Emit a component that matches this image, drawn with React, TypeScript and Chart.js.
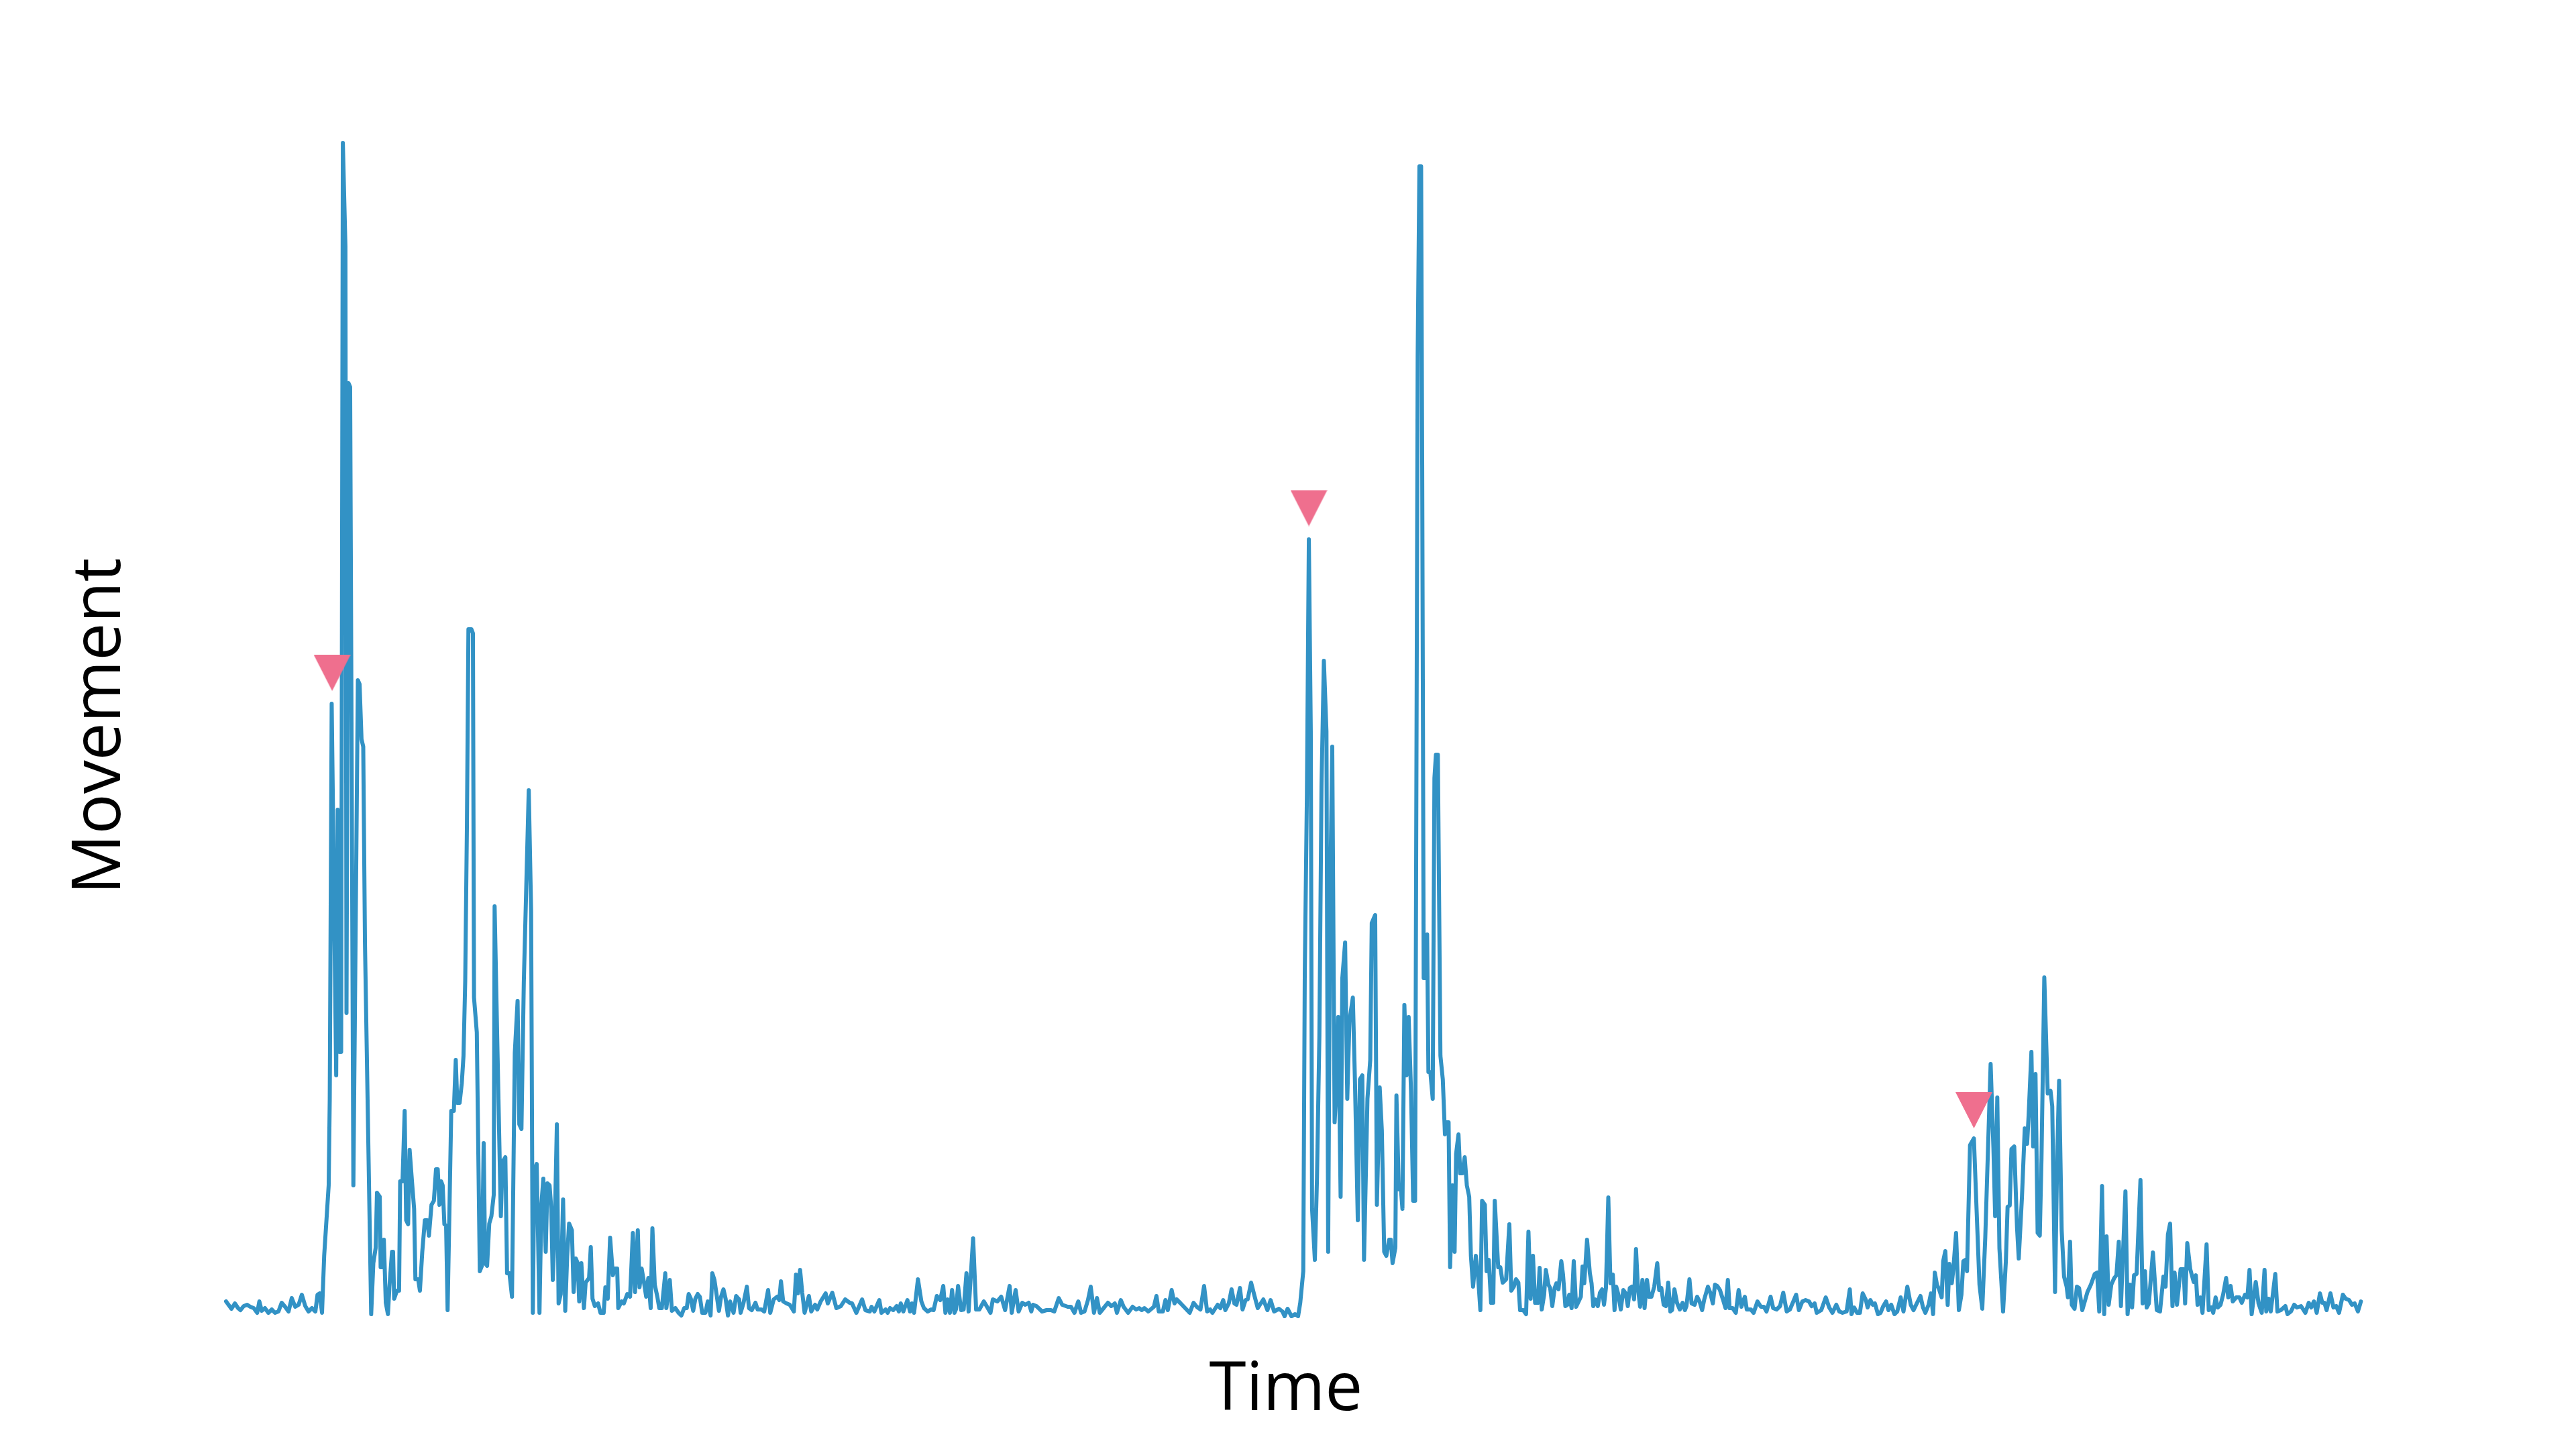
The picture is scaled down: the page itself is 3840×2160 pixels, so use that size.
import React, { useEffect, useRef } from "react";
import { Chart, registerables } from "chart.js";

Chart.register(...registerables);

// [time, movement] readings, in the order they appear along the trace
const restStart: [number, number][] = [
  [0, 2.5], [2.5, 1.4], [4.1, 2.2], [5.6, 1.5], [6.7, 1.2], [8.2, 1.8], [9.8, 2.0], [11.3, 1.7], [12.9, 1.5], [14.5, 0.8],
  [15.5, 2.5], [16.6, 1.1], [18.1, 1.5], [19.7, 0.8], [21.3, 1.3], [22.8, 0.8], [24.4, 1.0], [25.9, 2.3], [27.5, 1.7], [29.1, 1.0],
  [30.6, 3.0], [32.2, 1.7], [33.8, 2.0], [35.3, 3.5], [36.9, 1.8], [38.4, 1.0], [40.0, 1.5], [41.6, 1.0], [42.6, 3.5], [43.6, 3.7],
  [44.7, 0.8],
];

const burstOne: [number, number][] = [
  [45.7, 9.3], [47.8, 19.8], [48.3, 32.7], [49.2, 91.6], [51.3, 36.2], [52.0, 75.8], [52.8, 39.7], [53.6, 39.7], [54.4, 175.2],
  [55.6, 159.8], [56.1, 45.5], [57.0, 139.4], [57.8, 138.8], [59.3, 19.8], [61.4, 95.1], [62.2, 94.5], [63.1, 86.3], [63.9, 85.2],
  [64.7, 56], [67.6, 0.6], [68.6, 8.2], [69.7, 10.5], [70.3, 18.7], [71.6, 18.1], [72.0, 7.6], [72.8, 7.6], [73.5, 11.7], [74.4, 2.3],
  [75.4, 0.6], [76.1, 4.7], [77.3, 9.9], [77.8, 9.9], [78.3, 2.9], [79.6, 4.1], [80.6, 4.1], [81.1, 20.4], [82.2, 20.4], [83.2, 30.9],
  [83.9, 14.6], [84.8, 14.0], [85.5, 25.1], [86.6, 20.4], [87.6, 16.3], [88.2, 5.8], [89.5, 5.8], [90.3, 4.1], [91.4, 9.9], [92.6, 14.6],
  [93.7, 14.6], [94.5, 12.3], [95.7, 16.9], [96.8, 17.5], [97.8, 22.2], [98.6, 22.2], [99.4, 16.9], [100.2, 20.4], [100.9, 19.8],
  [101.7, 14.0], [102.5, 13.8], [103.2, 1.2], [104.9, 30.9], [106.1, 30.9], [107.0, 38.5], [107.7, 32.1], [108.8, 32.1], [109.8, 35.0],
  [110.6, 39.1], [111.4, 50.2], [112.2, 73.5], [112.9, 102.7], [114.3, 102.7], [115.0, 102.1], [115.5, 47.8], [116.8, 42.6], [118.2, 7.0],
];

const burstOneTail: [number, number][] = [
  [119.2, 7.8], [120.0, 26.1], [120.7, 8.2], [121.6, 7.8], [122.6, 14.1], [123.6, 15.2], [124.7, 18.4], [125.1, 61.4], [126.5, 38.8],
  [128.0, 15.2], [128.8, 23.3], [130.1, 24.0], [130.9, 6.7], [132.0, 6.7], [133.2, 3.2], [134.5, 39.5], [135.8, 47.3], [136.6, 28.9],
  [137.6, 28.2], [138.7, 50.1], [141.0, 78.7], [142.1, 60.7], [142.9, 0.8], [143.6, 21.9], [144.7, 23.0], [146.0, 0.8], [146.9, 17.0],
  [147.8, 20.8], [148.9, 9.9], [149.7, 20.1], [150.7, 19.8], [151.5, 16.3], [152.2, 5.7], [153.0, 12.0], [154.1, 28.9], [154.9, 2.2],
  [155.9, 3.6], [157.0, 17.7], [158.0, 1.1], [158.9, 9.2], [159.8, 14.1], [161.1, 13.1], [161.9, 3.9], [162.9, 8.9], [163.8, 8.2],
  [164.5, 2.5], [165.5, 8.2], [166.7, 1.5], [167.5, 5.3], [169.1, 6.0], [169.9, 10.6], [170.7, 2.9], [171.8, 1.8], [173.3, 2.2],
  [174.4, 0.8], [175.9, 0.8], [176.7, 4.6], [177.8, 2.9], [178.9, 12.0], [180.2, 6.4], [181.1, 7.4], [182.2, 7.4], [182.7, 1.5],
  [184.3, 2.5], [185.3, 2.2], [186.9, 3.6], [188.2, 3.2], [189.5, 12.7], [190.5, 3.9], [191.8, 13.1], [192.6, 4.6], [193.6, 7.4],
  [194.5, 5.7], [195.7, 3.2], [196.7, 6.0], [197.8, 1.5], [198.6, 13.4], [199.7, 5.0], [200.9, 3.2], [201.8, 1.5], [203.0, 1.5],
  [204.6, 6.7], [205.1, 1.5], [206.7, 5.7], [207.7, 1.1], [209.3, 1.5], [210.8, 0.8], [212.1, 0.4], [213.4, 1.5], [214.6, 1.5],
  [215.5, 3.6], [216.5, 2.9], [217.6, 1.1], [218.6, 2.9], [219.7, 3.6], [220.7, 3.2], [221.8, 0.8], [223.3, 0.8], [224.4, 2.5],
  [225.7, 0.4], [226.5, 6.7], [227.5, 5.7], [229.6, 1.1], [230.6, 3.2], [231.7, 4.3], [232.7, 2.9], [233.8, 0.4], [234.8, 2.5],
];

const quietA: [number, number][] = [
  [236.4, 0.8], [237.6, 3.3], [239.0, 2.8], [239.7, 0.8], [241.0, 2.2], [242.6, 4.7], [243.6, 1.5], [244.9, 1.2], [246.6, 2.3],
  [247.6, 1.3], [249.4, 1.3], [250.7, 1.0], [252.5, 4.2], [253.5, 0.8], [255.1, 2.8], [256.7, 3.2], [257.7, 2.7], [258.5, 5.5],
  [259.5, 2.5], [261.1, 2.2], [262.6, 2.0], [264.5, 1.0], [265.5, 6.5], [266.4, 3.7], [267.4, 7.2], [268.4, 3.8], [269.5, 0.8],
  [271.5, 3.3], [272.6, 1.0], [274.4, 2.0], [275.4, 1.3], [277.0, 2.5], [279.3, 3.7], [280.3, 2.2], [282.4, 3.8], [284.3, 1.5],
  [286.4, 1.8], [288.4, 2.8], [290.5, 2.3], [291.6, 2.2], [293.6, 0.8], [296.3, 2.8], [297.8, 1.2], [299.9, 1.0], [300.7, 1.7],
  [302.0, 1.0], [304.3, 2.7], [305.3, 0.8], [307.2, 1.3], [308.2, 0.8], [309.3, 1.5], [310.8, 1.2], [312.4, 1.8], [313.4, 1.0],
  [314.3, 2.2], [315.5, 1.0], [317.4, 2.7], [318.6, 1.0], [319.5, 2.2], [320.5, 0.8], [322.3, 5.8], [323.9, 2.5], [325.1, 1.5],
  [326.8, 1.0], [328.5, 1.3], [329.6, 1.2], [331.1, 3.3], [332.7, 2.7], [334.1, 4.8], [335.1, 0.8], [336.1, 2.8], [337.2, 0.8],
  [338.2, 4.2], [339.3, 0.8], [340.0, 1.3], [341.0, 4.8], [342.4, 1.2], [343.6, 1.3], [344.9, 6.7], [345.9, 1.0], [348.0, 11.9],
  [349.4, 1.3], [350.9, 1.3], [353.0, 2.5], [354.3, 1.8], [356.1, 0.8], [357.2, 2.8], [359.3, 2.5], [361.1, 3.2], [362.9, 1.2],
  [365.0, 4.8],
];

const quietB: [number, number][] = [
  [366.0, 0.8], [367.8, 4.2], [369.2, 1.0], [370.9, 2.3], [372.3, 2.0], [373.9, 2.3], [375.1, 1.0], [375.9, 2.0], [377.5, 1.8],
  [378.5, 1.5], [380.1, 1.0], [382.2, 1.2], [384.3, 1.2], [385.8, 1.0], [387.9, 3.0], [389.5, 2.0], [392.1, 1.7], [393.6, 1.7],
  [395.2, 0.8], [397.0, 2.5], [398.3, 0.8], [399.9, 1.0], [401.5, 2.7], [402.8, 4.7], [404.3, 0.8], [405.7, 3.0], [407.0, 0.8],
  [408.8, 1.5], [410.8, 2.3], [412.4, 1.8], [414.0, 2.2], [415.0, 0.8], [416.8, 2.7], [418.1, 1.7], [420.2, 0.8], [422.3, 1.7],
  [423.9, 1.3], [425.4, 1.5], [426.5, 1.2], [427.8, 1.5], [429.6, 1.0], [432.2, 1.7], [433.4, 3.3], [434.5, 1.0], [436.4, 1.0],
  [437.6, 2.7], [438.7, 1.2], [440.5, 4.2], [441.8, 2.2], [442.8, 2.8], [444.7, 2.2], [446.8, 1.5], [448.9, 0.8], [450.7, 2.3],
  [452.2, 1.7], [453.9, 1.3], [455.6, 4.8], [457.0, 1.0], [458.4, 1.3], [459.5, 0.8], [461.9, 2.0], [463.2, 1.5], [464.5, 2.7],
  [465.5, 1.2], [467.1, 2.2], [468.4, 4.3], [469.7, 2.2], [470.7, 2.0], [472.3, 4.5], [473.5, 1.3], [474.9, 2.7], [475.9, 2.8],
  [477.5, 5.3], [479.1, 3.3], [480.6, 1.5], [483.2, 2.8], [485.1, 1.2], [486.6, 2.7], [488.2, 1.0],
];

const burstTwo: [number, number][] = [
  [490.5, 1.4], [492.1, 1.0], [493.1, 0.3], [494.5, 1.4], [496.3, 0.3], [498.0, 0.6], [499.4, 0.3], [500.4, 2.3], [501.8, 7],
  [502.5, 51.3], [503.5, 78.2], [504.4, 116.1], [505.3, 87.5], [505.9, 16.3], [507.2, 8.7], [508.2, 21], [509.3, 42], [510.3, 79.3],
  [511.4, 98], [512.6, 87.5], [513.4, 9.9], [514.3, 61.8], [515.3, 85.2], [516.4, 29.2], [517.1, 33.8], [518.1, 44.9], [519.2, 18.1],
  [520.0, 50.7], [521.3, 56], [522.3, 32.7], [523.3, 44.3], [524.9, 47.8], [525.9, 35], [527.2, 14.6], [528.2, 35.6], [529.3, 36.2],
  [530.1, 8.7], [531.7, 32.7], [533.0, 38.5], [533.7, 58.9], [535.3, 60.1], [536.1, 16.9], [537.4, 34.4], [538.4, 28], [539.5, 9.9],
  [540.5, 9.3], [541.8, 11.7], [542.6, 11.7], [543.4, 8.2], [544.7, 10.5], [545.2, 33.2], [546.3, 19.2], [547.3, 19.2], [548.0, 16.3],
  [548.9, 46.7], [549.9, 36.2], [550.9, 44.9], [552.0, 33.8], [553.0, 17.5], [553.9, 17.5], [555.1, 143.5], [555.9, 171.7],
  [556.7, 171.7], [557.2, 127.2], [557.9, 50.7], [558.8, 50.7], [559.5, 57.2], [560.1, 36.7], [561.0, 36.7], [562.1, 32.7],
  [562.9, 80.5], [563.6, 84], [564.5, 84], [565.7, 39.1], [566.8, 35.6], [567.8, 27.4], [568.7, 29.2], [569.5, 29.2], [570.2, 7.6],
  [571.3, 19.8], [572.3, 9.9], [573.0, 24.5], [574.1, 27.4], [574.9, 21.6], [575.9, 21.6], [577.0, 24], [578.0, 19.8], [579.1, 18.1],
  [579.9, 9.3], [580.9, 4.7], [582.2, 9.3], [583.2, 6.4], [584.3, 1.2], [585.1, 17.5], [586.4, 16.9], [587.2, 7], [588.2, 8.7],
  [589.3, 2.3], [590.3, 2.3], [591.0, 17.5], [592.6, 7.6], [593.6, 7.6], [594.7, 5.3], [596.3, 5.8], [597.8, 14], [598.7, 4.1],
  [599.9, 4.7], [600.9, 5.8], [602.0, 5.3], [602.8, 1.2], [604.3, 1.2], [605.6, 0.6], [606.7, 12.9], [607.7, 2.9], [608.8, 9.3],
  [609.8, 2.3], [611.1, 2.3],
];

const burstTwoTail: [number, number][] = [
  [611.9, 7.5], [612.9, 1.3], [614.0, 3.5], [614.8, 7.2], [616.0, 5], [616.8, 4.5], [617.8, 1.8], [618.9, 4.5], [619.7, 5.2],
  [620.7, 4.3], [622.0, 8.5], [622.8, 6.5], [623.9, 1.8], [624.9, 2], [625.7, 3.5], [626.8, 1.5], [627.8, 8.5], [628.9, 1.7],
  [630.1, 2.5], [631.1, 3.2], [631.9, 7.7], [632.7, 5.2], [634.0, 11.7], [635.3, 6.7], [636.1, 5.2], [636.9, 1.8], [637.9, 2.8],
  [639.0, 1.8], [640.0, 3.8], [641.0, 4.3], [641.9, 2], [642.8, 4.5], [643.9, 18], [644.9, 5.2], [646.0, 6.5], [646.8, 1.2],
  [647.6, 4.7], [648.6, 3.5], [649.7, 1.3], [650.9, 4.2], [652.0, 3.7], [653.0, 1.8], [653.9, 4.5], [654.9, 4.7], [655.9, 2.8],
  [656.8, 10.3], [657.7, 4.5], [658.7, 1.7], [659.8, 5.7], [660.8, 1.5], [661.9, 5.7], [662.9, 3.2], [664.0, 3.2], [665.3, 4.7],
  [666.7, 8.2], [667.6, 4.2], [668.6, 4.5], [669.7, 2], [670.7, 1.8], [671.8, 5.3], [672.8, 1.0], [673.6, 1.2], [674.7, 4.3],
  [675.9, 2.3], [677.2, 1.3], [678.5, 2.3], [679.6, 1.2], [680.3, 1.8], [681.7, 5.8], [682.7, 2.2], [684.1, 2], [685.3, 3.2],
  [686.4, 2.5], [687.6, 1.2], [688.6, 2.8], [690.3, 4.7], [691.4, 3.8], [692.6, 2.2], [693.6, 5], [694.7, 4.8], [695.9, 4.2],
  [697.3, 2.8], [698.5, 1.5], [699.6, 5.7], [700.4, 1.5], [701.8, 1.5], [703.3, 0.8], [704.6, 4.2], [705.9, 1.7], [707.5, 3.2],
  [708.4, 1.3], [710.3, 1.3], [711.6, 0.8], [713.4, 2.5], [715.0, 1.7], [716.4, 1.7], [717.6, 1.0], [719.5, 3.2], [720.7, 1.5],
  [722.3, 1.3], [723.9, 1.8], [725.4, 3.8], [727.0, 1.0], [728.5, 1.3], [730.1, 2.5], [731.4, 3.5], [732.7, 1.2], [734.3, 2.5],
  [735.8, 2.7], [737.4, 2.5], [738.6, 1.8], [740.0, 2.2], [741.0, 0.8],
];

const burstThree: [number, number][] = [
  [743.1, 1.2], [745.2, 3.1], [746.8, 1.6], [748.3, 0.8], [750.1, 2.0], [751.5, 1.0], [753.0, 0.8], [754.9, 1.0], [756.4, 4.3],
  [757.2, 0.6], [758.4, 1.6], [759.8, 0.8], [761.1, 0.8], [762.4, 3.7], [763.9, 2.7], [764.7, 1.6], [766.0, 2.7], [767.1, 2.0],
  [768.1, 2.2], [769.5, 0.6], [770.7, 0.8], [772.0, 1.8], [773.3, 2.5], [774.4, 1.2], [775.7, 2.0], [777.2, 0.6], [778.5, 1.0],
  [780.1, 3.1], [781.4, 1.0], [783.2, 4.7], [784.8, 2.0], [786.1, 1.2], [787.6, 2.2], [789.3, 3.3], [790.5, 1.6], [791.6, 0.8],
  [793.1, 2.0], [794.2, 3.7], [795.2, 0.6], [796.0, 6.8], [797.0, 5.0], [798.0, 4.3], [799.2, 3.1], [799.9, 8.5], [800.9, 10.0],
  [802.0, 2.0], [802.8, 8.1], [803.9, 5.2], [804.6, 7.2], [805.9, 12.7], [807.2, 1.2], [808.4, 3.5], [809.3, 8.5], [810.3, 8.7],
  [811.0, 7.0], [812.4, 25.8], [814.2, 26.8], [815.5, 15.8], [816.8, 5.0], [818.1, 1.4], [819.5, 12], [822.0, 37.9], [823.3, 25.4],
  [824.1, 15.2], [825.1, 32.9], [826.1, 10.4], [827.8, 1.0], [829.1, 8.5], [829.9, 16.6], [830.9, 16.8], [831.7, 25.2], [833.0, 25.6],
  [834.3, 13.5], [835.1, 8.9], [836.6, 18.1], [837.9, 28.3], [839.0, 26], [839.7, 30.2], [841.0, 39.7], [841.8, 25.6], [842.9, 36.4],
  [843.9, 12.7], [844.9, 12.3], [845.7, 23.9], [847.0, 50.8], [848.6, 33.5], [849.9, 33.9], [850.7, 31.6], [852.0, 3.9], [853.0, 23.9],
  [853.9, 35.4], [855.1, 13.1], [856.2, 6.2], [857.4, 4.7], [858.0, 3.1], [859.0, 11.4], [859.8, 2.0], [861.1, 1.4], [862.2, 4.7],
  [863.2, 4.5], [864.7, 1.2], [867.1, 3.9], [868.7, 5.0],
];

const burstThreeTail: [number, number][] = [
  [870.5, 6.6], [871.6, 6.8], [872.6, 1.0], [873.9, 19.7], [874.9, 0.6], [876.0, 12.2], [877.0, 2.0], [878.2, 5.0], [879.6, 6.0],
  [880.6, 6.4], [881.7, 11.4], [882.7, 1.8], [884.8, 18.9], [885.8, 0.6], [886.9, 5.0], [887.9, 1.6], [888.8, 6.4], [890.0, 6.6],
  [891.8, 20.6], [892.8, 2.2], [893.9, 7.0], [894.7, 1.6], [895.7, 2.2], [897.6, 9.8], [899.4, 1.2], [900.9, 1.0], [902.5, 6.2],
  [903.5, 4.7], [904.6, 12.5], [905.6, 14.1], [906.7, 1.8], [907.7, 6.8], [908.8, 2.0], [910.5, 7.3], [911.9, 7.3], [912.6, 2.2],
  [913.6, 11.2], [915.0, 7.3], [916.6, 5.4], [917.6, 6.4], [918.4, 2.0], [919.7, 3.1], [920.7, 0.8], [922.6, 11.0], [923.6, 1.2],
  [924.9, 1.6], [925.7, 0.8], [926.8, 3.1], [927.8, 1.6], [929.1, 2.0], [930.3, 3.5], [931.7, 6.0], [932.7, 3.1], [933.8, 4.8],
  [934.8, 2.5], [936.4, 3.1], [937.9, 3.1], [939.0, 2.3], [940.5, 3.5], [941.6, 3.1], [942.6, 7.2], [943.6, 0.6], [945.5, 5.4],
  [946.8, 2.2], [948.3, 0.8], [949.6, 7.2], [950.4, 1.0], [951.5, 2.9], [952.5, 1.0], [954.6, 6.6], [955.6, 1.0], [957.2, 1.2],
  [959.3, 1.8], [960.3, 0.6], [961.9, 1.0], [963.4, 2.0], [964.7, 1.6], [966.6, 1.8], [968.6, 0.8], [970.2, 2.3], [971.3, 1.6],
  [972.6, 2.5], [973.9, 0.8], [975.4, 3.7], [976.5, 2.3], [977.5, 2.3], [978.5, 1.2], [980.3, 3.7], [981.7, 1.6], [983.0, 1.8],
  [984.3, 0.8], [986.1, 3.5], [987.4, 2.9], [989.0, 2.7], [990.3, 2.0], [991.6, 2.2], [993.1, 1.0], [994.5, 2.5],
];

// onset markers (time, level)
const markerTimes = [49.4, 504.4, 814.2];
const markerLevels = [96.2, 120.75, 31.0];

const xTitle = "Time";
const yTitle = "Movement";

const LINE_COLOR = "#3292c5";
const MARKER_COLOR = "#ef6f8e";

function makeTriangle(): HTMLCanvasElement {
  const c = document.createElement("canvas");
  c.width = 55;
  c.height = 54;
  const g = c.getContext("2d")!;
  g.fillStyle = MARKER_COLOR;
  g.beginPath();
  g.moveTo(0, 0);
  g.lineTo(55, 0);
  g.lineTo(27.5, 54);
  g.closePath();
  g.fill();
  return c;
}

export default function App() {
  const ref = useRef<HTMLCanvasElement | null>(null);

  useEffect(() => {
    if (!ref.current) return;
    const series = [
      ...restStart, ...burstOne, ...burstOneTail, ...quietA, ...quietB,
      ...burstTwo, ...burstTwoTail, ...burstThree, ...burstThreeTail,
    ];
    const tri = makeTriangle();
    const titleFont = { family: '"Open Sans", "Noto Sans", sans-serif', size: 100, lineHeight: 1.2, weight: "normal" as const };

    const chart = new Chart(ref.current, {
      type: "line",
      data: {
        datasets: [
          {
            data: series.map(([x, y]) => ({ x, y })),
            borderColor: LINE_COLOR,
            borderWidth: 6,
            pointRadius: 0,
            tension: 0,
            fill: false,
            borderJoinStyle: "round",
            borderCapStyle: "round",
            order: 2,
          },
          {
            data: markerTimes.map((t, i) => ({ x: t, y: markerLevels[i] })),
            showLine: false,
            pointStyle: tri as any,
            pointRadius: 27,
            order: 1,
          },
        ],
      },
      options: {
        responsive: false,
        animation: false,
        devicePixelRatio: 1,
        events: [],
        layout: { autoPadding: false, padding: { top: 200, right: 311, bottom: 22.8, left: 0 } },
        plugins: { legend: { display: false }, tooltip: { enabled: false } },
        scales: {
          x: {
            type: "linear",
            min: -10,
            max: 997.5,
            grid: { display: false, drawTicks: false },
            border: { display: false },
            ticks: { display: false },
            title: { display: true, text: xTitle, color: "#000", font: titleFont, padding: { top: 48.2, bottom: 4 } },
          },
          y: {
            type: "linear",
            min: 0,
            max: 176.5,
            grid: { display: false, drawTicks: false },
            border: { display: false },
            ticks: { display: false },
            title: { display: true, text: yTitle, color: "#000", font: titleFont, padding: { top: 90.2, bottom: 94.8 } },
          },
        },
      },
    });
    return () => chart.destroy();
  }, []);

  return (
    <div style={{ position: "fixed", left: 0, top: 0, width: 3840, height: 2160, background: "#fff" }}>
      <canvas ref={ref} width={3840} height={2160} style={{ display: "block", width: 3840, height: 2160 }} />
    </div>
  );
}
